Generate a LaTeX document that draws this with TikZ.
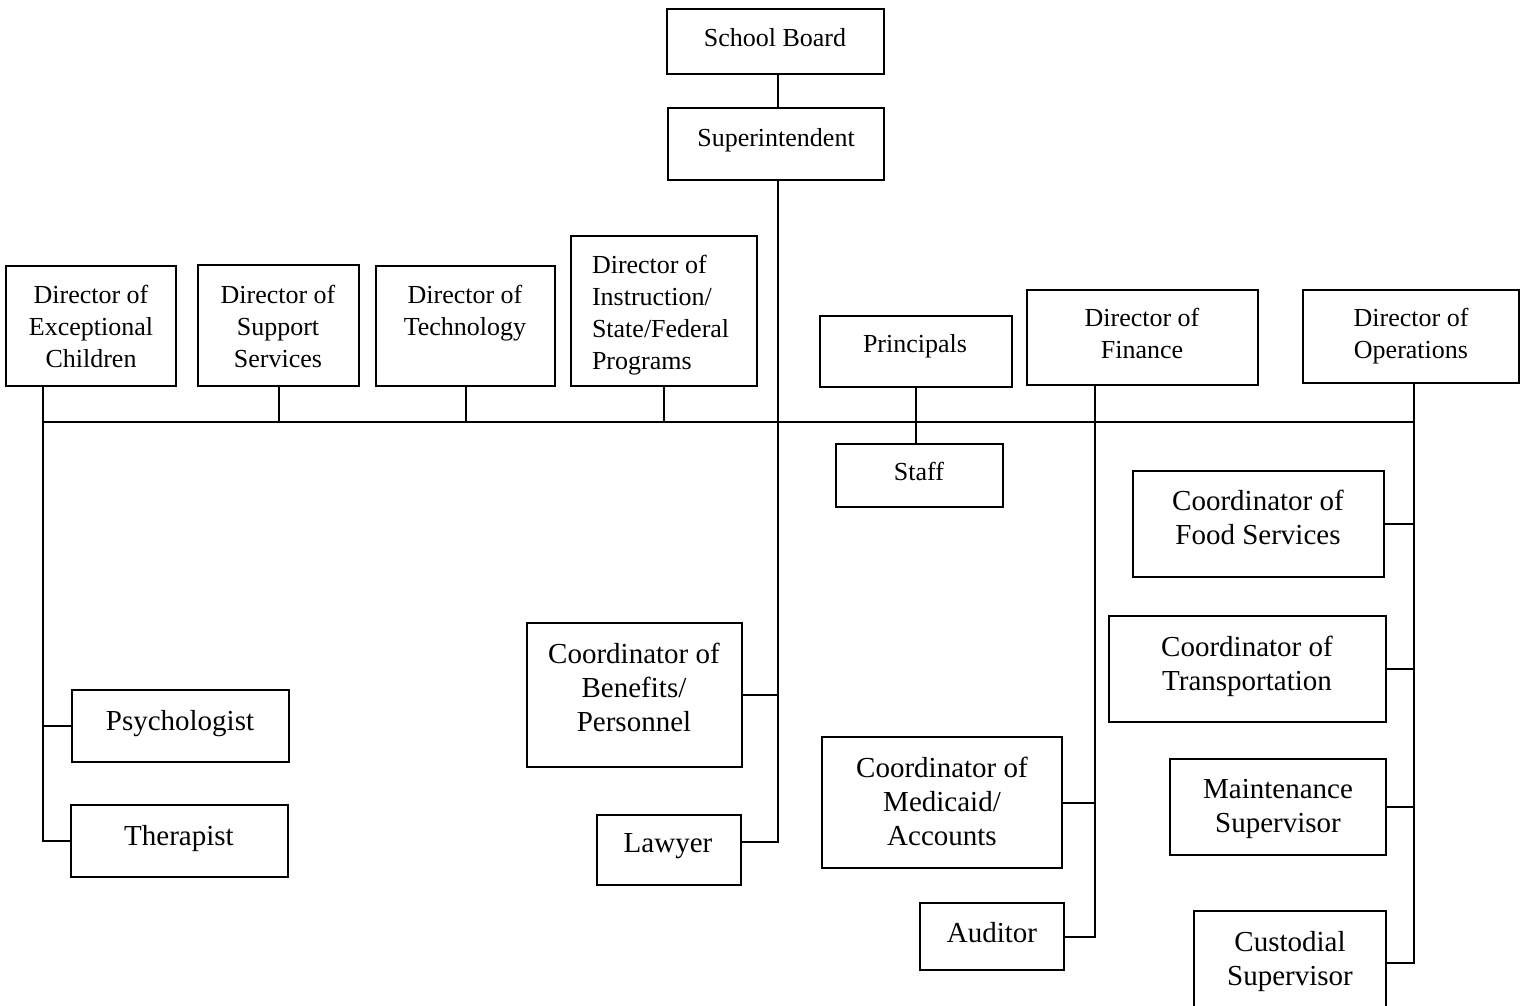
\documentclass[tikz,border=0pt]{standalone}
\usepackage{fontspec}
\setmainfont{Liberation Serif}
\usetikzlibrary{fit}
\tikzset{
  box/.style={draw, line width=1pt, inner sep=0pt},
  head/.style={font=\fontsize{13}{16}\selectfont, align=center, anchor=north, inner sep=0pt},
  unit/.style={font=\fontsize{14.5}{17}\selectfont, align=center, anchor=north, inner sep=0pt}
}
\begin{document}
\begin{tikzpicture}[x=0.5pt, y=-0.5pt, line width=1pt]
\useasboundingbox (0,0) rectangle (1528,1006);
\clip (0,0) rectangle (1528,1006);
% board and superintendent
\node[box, fit={(667,9) (884,74)}] (board) {};
\node[head] (boardT) at (775,27) {School Board};
\node[box, fit={(668,108) (884,180)}] (sup) {};
\node[head] (supT) at (776,127) {Superintendent};
% directors
\node[box, fit={(6,266) (176,386)}] (exc) {};
\node[head] (excT) at (91,284) {Director of\\Exceptional\\Children};
\node[box, fit={(198,265) (359,386)}] (supp) {};
\node[head] (suppT) at (278,284) {Director of\\Support\\Services};
\node[box, fit={(376,266) (555,386)}] (tech) {};
\node[head] (techT) at (465,284) {Director of\\Technology};
\node[box, fit={(571,236) (757,386)}] (instr) {};
\node[head, align=left, anchor=north west] (instrT) at (591,254) {Director of\\Instruction/\\State/Federal\\Programs};
\node[box, fit={(820,316) (1012,387)}] (princ) {};
\node[head] (princT) at (915,333) {Principals};
\node[box, fit={(836,444) (1003,507)}] (staff) {};
\node[head] (staffT) at (919,461) {Staff};
\node[box, fit={(1027,290) (1258,385)}] (fin) {};
\node[head] (finT) at (1142,307) {Director of\\Finance};
\node[box, fit={(1303,290) (1519,383)}] (ops) {};
\node[head] (opsT) at (1411,307) {Director of\\Operations};
% staff under the directors
\node[box, fit={(72,690) (289,762)}] (psych) {};
\node[unit] (psychT) at (180,709) {Psychologist};
\node[box, fit={(71,805) (288,877)}] (therap) {};
\node[unit] (therapT) at (179,824) {Therapist};
\node[box, fit={(527,623) (742,767)}] (benef) {};
\node[unit] (benefT) at (634,642) {Coordinator of\\Benefits/\\Personnel};
\node[box, fit={(597,815) (741,885)}] (lawyer) {};
\node[unit] (lawyerT) at (668,833) {Lawyer};
\node[box, fit={(822,737) (1062,868)}] (medic) {};
\node[unit] (medicT) at (942,756) {Coordinator of\\Medicaid/\\Accounts};
\node[box, fit={(920,903) (1064,970)}] (audit) {};
\node[unit] (auditT) at (992,921) {Auditor};
\node[box, fit={(1133,471) (1384,577)}] (food) {};
\node[unit] (foodT) at (1258,489) {Coordinator of\\Food Services};
\node[box, fit={(1109,616) (1386,722)}] (trans) {};
\node[unit] (transT) at (1247,635) {Coordinator of\\Transportation};
\node[box, fit={(1170,759) (1386,855)}] (maint) {};
\node[unit] (maintT) at (1278,778) {Maintenance\\Supervisor};
\node[box, fit={(1194,911) (1386,1015)}] (cust) {};
\node[unit] (custT) at (1290,930) {Custodial\\Supervisor};
% lines
\coordinate (busL) at (43,422);
\coordinate (supX) at (778,422);
\coordinate (finX) at (1095,422);
\coordinate (opsX) at (1414,422);
\coordinate (lawC) at ([yshift=4pt]lawyer.east);
\draw (supX |- board.south) -- (supX |- sup.north);
\draw (supX |- sup.south) -- (supX |- lawC) -- (lawC);
\draw (benef.east) -- (benef.east -| supX);
\draw (busL) -- (opsX);
\draw (busL |- exc.south) -- (busL |- therap.west) -- (therap.west);
\draw (psych.west) -- (psych.west -| busL);
\foreach \d in {supp, tech, instr}
  \draw (\d.south) -- (\d.south |- busL);
\draw (princ.south) -- (princ.south |- staff.north);
\draw (finX |- fin.south) -- (finX |- audit.east) -- (audit.east);
\draw (medic.east) -- (medic.east -| finX);
\draw (opsX |- ops.south) -- (opsX |- cust.east) -- (cust.east);
\foreach \u in {food, trans, maint}
  \draw (\u.east) -- (\u.east -| opsX);
\end{tikzpicture}
\end{document}
